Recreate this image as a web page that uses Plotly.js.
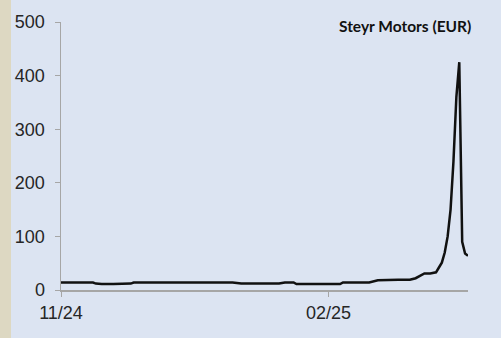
<!DOCTYPE html>
<html>
<head>
<meta charset="utf-8">
<script src="https://cdn.plot.ly/plotly-3.0.1.min.js"></script>
<style>
  html, body { margin:0; padding:0; width:501px; height:338px; overflow:hidden; background:#DDD8C2; }
  #chart { position:absolute; left:11px; top:0; width:490px; height:338px; }
</style>
</head>
<body>
<div id="chart"></div>
<script>
const dates = [
  "2024-11-01","2024-11-05","2024-11-08","2024-11-12","2024-11-13","2024-11-15","2024-11-19","2024-11-22",
  "2024-11-25","2024-11-26","2024-11-29","2024-12-02","2024-12-03","2024-12-04","2024-12-10","2024-12-16",
  "2024-12-20","2024-12-27","2024-12-30","2025-01-02","2025-01-07","2025-01-08","2025-01-09","2025-01-14",
  "2025-01-15","2025-01-17","2025-01-20","2025-01-21","2025-01-27","2025-02-03","2025-02-05","2025-02-06",
  "2025-02-12","2025-02-15","2025-02-18","2025-02-21","2025-02-25","2025-03-01","2025-03-03","2025-03-04",
  "2025-03-05","2025-03-06","2025-03-08","2025-03-10","2025-03-11","2025-03-12","2025-03-13","2025-03-14",
  "2025-03-15","2025-03-16","2025-03-17","2025-03-18","2025-03-19","2025-03-20","2025-03-21"
];
const prices = [
  14,14,14,14,12,11,11,11,
  12,14,14,14,13,14,14,14,
  14,14,14,12,12,13,12,13,
  12,14,14,11,11,11,11,14,
  14,14,18,19,19,19,22,25,
  28,31,31,33,42,51,70,100,
  150,240,360,425,90,68,64
];
const tickDates = ["2024-11-01","2025-02-01"];
const tickLabels = ["11/24","02/25"];
const yTicks = [0,100,200,300,400,500];
const chartTitle = "Steyr Motors (EUR)";

const trace = {
  x: dates, y: prices, type: "scatter", mode: "lines",
  line: {color:"#111111", width:2.5}, hoverinfo:"skip"
};
const layout = {
  width:490, height:338,
  margin:{l:50, r:33, t:22, b:48},
  paper_bgcolor:"#DCE4F2", plot_bgcolor:"#DCE4F2",
  showlegend:false,
  xaxis:{
    type:"date", range:["2024-11-01","2025-03-21"],
    tickmode:"array", tickvals:tickDates, ticktext:tickLabels,
    ticks:"outside", ticklen:5, tickcolor:"#A6A6A6", tickwidth:1,
    showline:true, linecolor:"#A6A6A6", linewidth:1.5,
    showgrid:false, zeroline:false,
    tickfont:{family:"Liberation Sans, Arial", size:18, color:"#262626"},
    ticklabelstandoff:1
  },
  yaxis:{
    range:[0,500], tickmode:"array", tickvals:yTicks,
    ticks:"outside", ticklen:5, tickcolor:"#A6A6A6", tickwidth:1,
    showline:true, linecolor:"#A6A6A6", linewidth:1.5,
    showgrid:false, zeroline:false,
    tickfont:{family:"Liberation Sans, Arial", size:18, color:"#262626"},
    ticklabelstandoff:6
  },
  annotations:[{
    text:"<b>" + chartTitle + "</b>", xref:"paper", yref:"paper",
    x:0.845, y:0.985, xanchor:"center", yanchor:"middle", showarrow:false,
    font:{family:"Lato, Open Sans, sans-serif", size:15.5, color:"#111111"}
  }]
};
Plotly.newPlot("chart", [trace], layout, {staticPlot:true, displayModeBar:false});
</script>
</body>
</html>
